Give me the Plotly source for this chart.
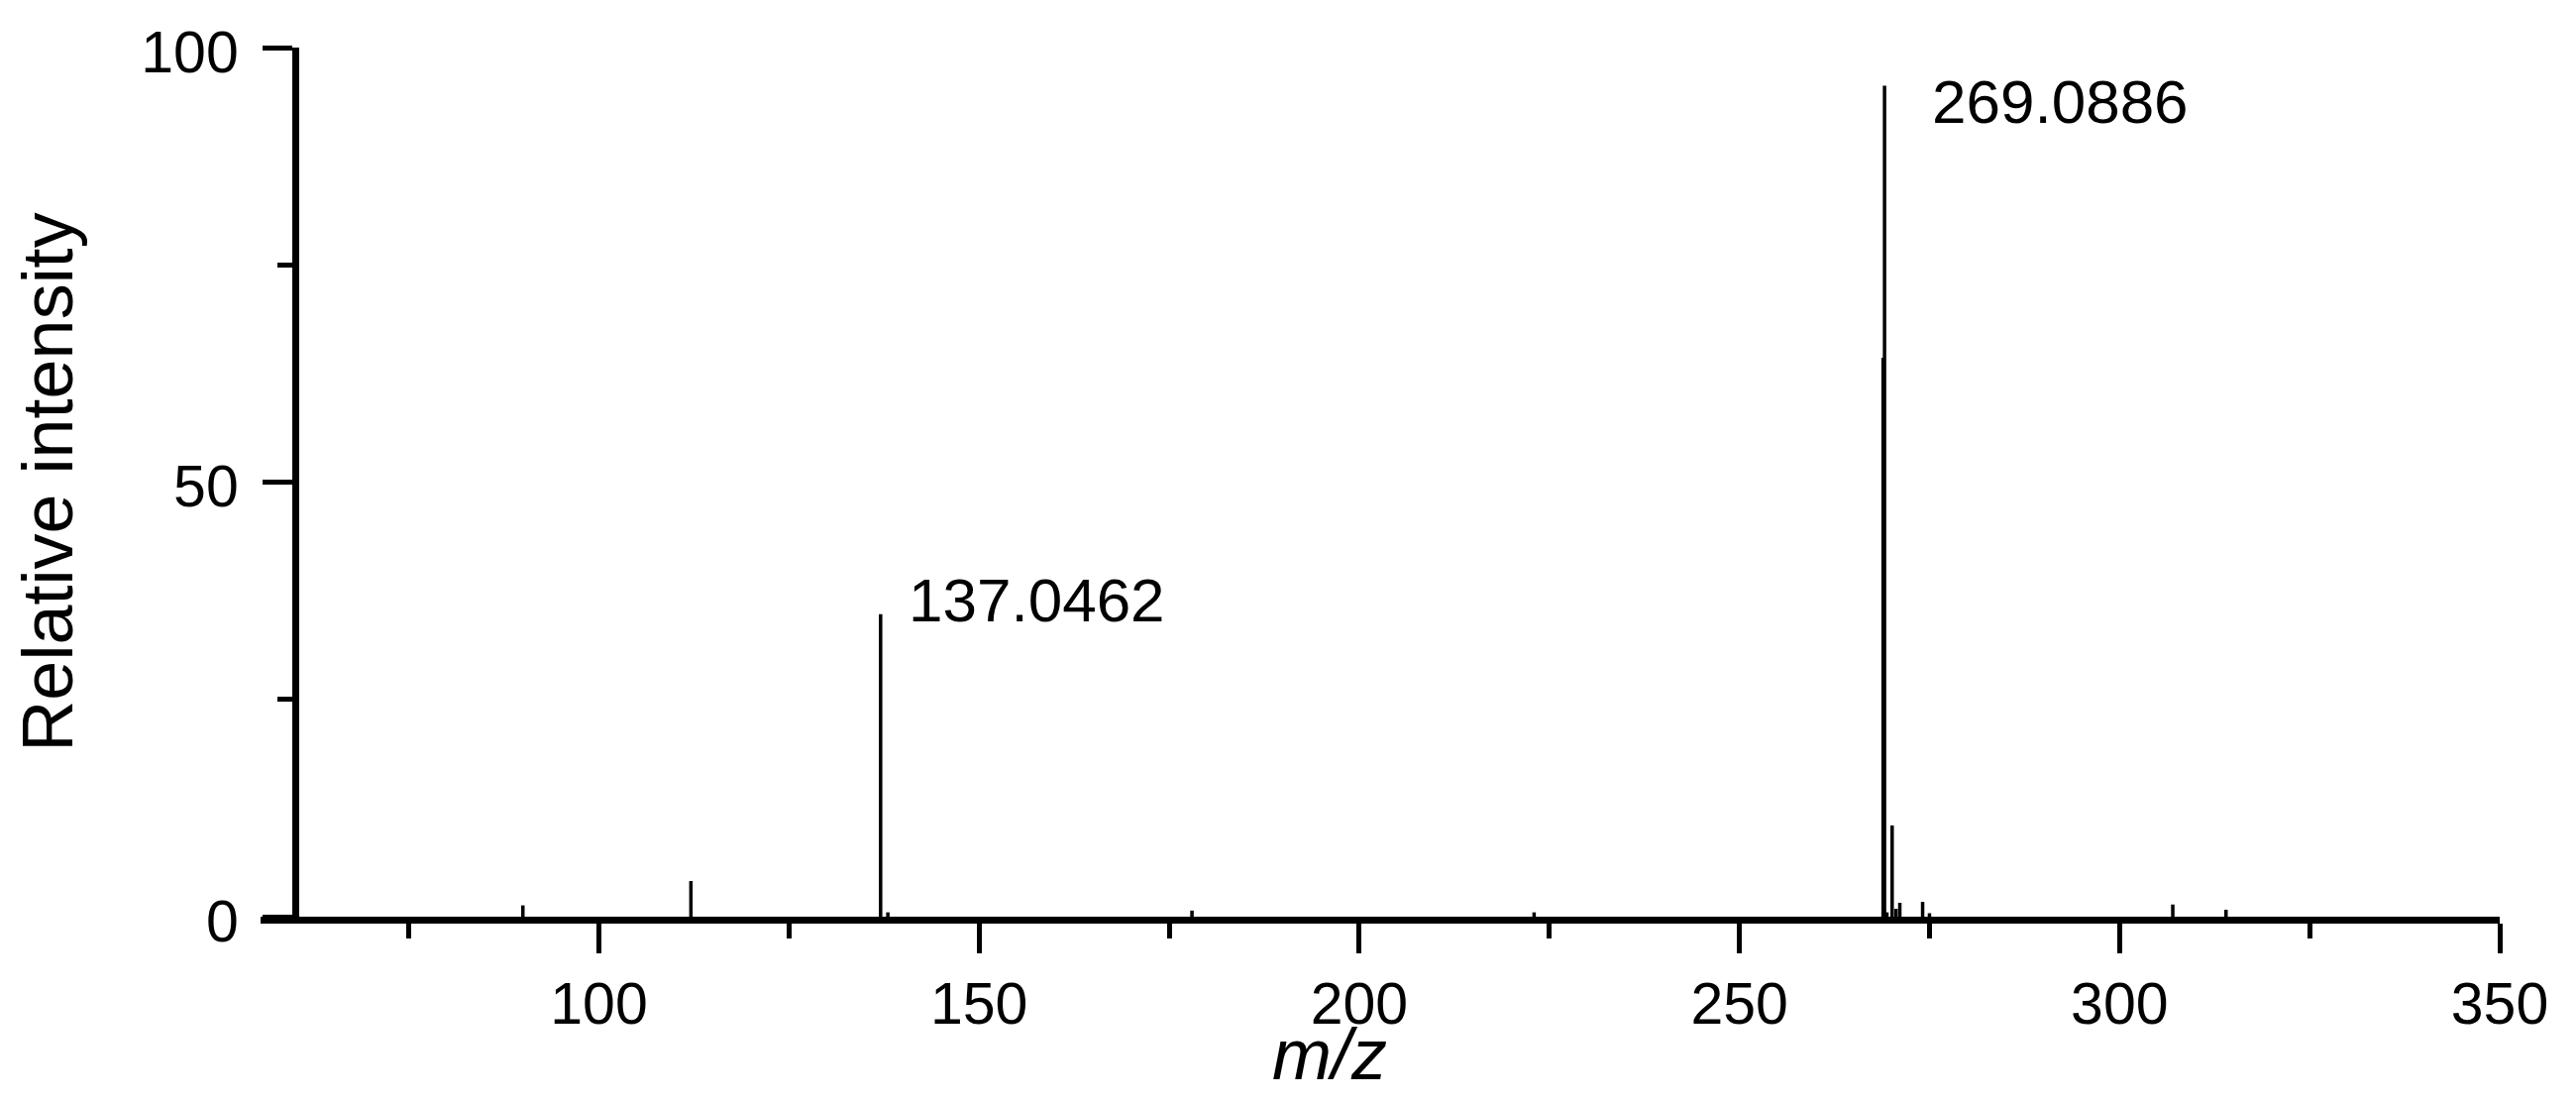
import plotly.graph_objects as go

# peak list (m/z, relative intensity %)
mz = [90.0, 112.1, 137.05, 138.0, 178.0, 223.0, 268.9, 269.09, 269.4,
      270.09, 270.6, 271.1, 274.1, 275.0, 307.0, 314.0]
intensity = [1.3, 4.1, 34.8, 0.5, 0.7, 0.5, 64.3, 95.6, 0.5,
             10.5, 0.9, 1.6, 1.7, 0.4, 1.4, 0.8]

# labelled peaks
label_mz = [137.05, 269.09]
label_int = [34.8, 95.6]
label_text = ['137.0462', '269.0886']

x_ticks = [100, 150, 200, 250, 300, 350]
y_ticks = [0, 50, 100]

FONT = 'Liberation Sans, Arial, sans-serif'

# stick spectrum: one vertical segment per peak
sx, sy = [], []
for m, h in zip(mz, intensity):
    sx += [m, m, None]
    sy += [0, h, None]

fig = go.Figure()
fig.add_trace(go.Scatter(
    x=sx, y=sy,
    mode='lines',
    line=dict(color='black', width=3.5),
    hoverinfo='skip',
    showlegend=False
))

annotations = []
for m, h, t, dx, dy in zip(label_mz, label_int, label_text, [26, 46], [14, -16]):
    annotations.append(dict(
        x=m, y=h, xref='x', yref='y',
        text=t, showarrow=False,
        xanchor='left', yanchor='middle',
        xshift=dx, yshift=dy,
        font=dict(family=FONT, size=62, color='black')
    ))

# x title placed by hand (it sits left of the axis centre in the original)
annotations.append(dict(
    x=0.4776, y=-0.158, xref='paper', yref='paper',
    text='<i>m/z</i>', showarrow=False,
    xanchor='center', yanchor='middle',
    font=dict(family=FONT, size=72, color='black')
))

x_min = 55.5
# page body keeps its default 8px margin, so the figure is 16px smaller
fig.update_layout(
    width=2584, height=1096,
    margin=dict(l=255, r=69, t=33, b=179, pad=0),
    paper_bgcolor='white',
    plot_bgcolor='white',
    font=dict(family=FONT, color='black'),
    xaxis=dict(
        range=[x_min, 350],
        showgrid=False, zeroline=False,
        showline=True, linecolor='black', linewidth=7,
        ticks='outside', ticklen=30, tickwidth=5, tickcolor='black',
        tickvals=x_ticks,
        tickfont=dict(family=FONT, size=59, color='black'),
        minor=dict(ticks='outside', ticklen=15, tickwidth=5, tickcolor='black',
                   tick0=0, dtick=25),
    ),
    yaxis=dict(
        range=[0, 100],
        anchor='free', position=(60 - x_min) / (350 - x_min),
        showgrid=False, zeroline=False,
        showline=True, linecolor='black', linewidth=7,
        ticks='outside', ticklen=30, tickwidth=5, tickcolor='black',
        tickvals=y_ticks, ticklabelstandoff=12, ticklabelshift=4,
        tickfont=dict(family=FONT, size=59, color='black'),
        minor=dict(ticks='outside', ticklen=15, tickwidth=5, tickcolor='black',
                   tick0=0, dtick=25),
        title=dict(text='Relative intensity', standoff=52,
                   font=dict(family=FONT, size=72, color='black')),
    ),
    annotations=annotations,
)

fig.write_html("out.html")
